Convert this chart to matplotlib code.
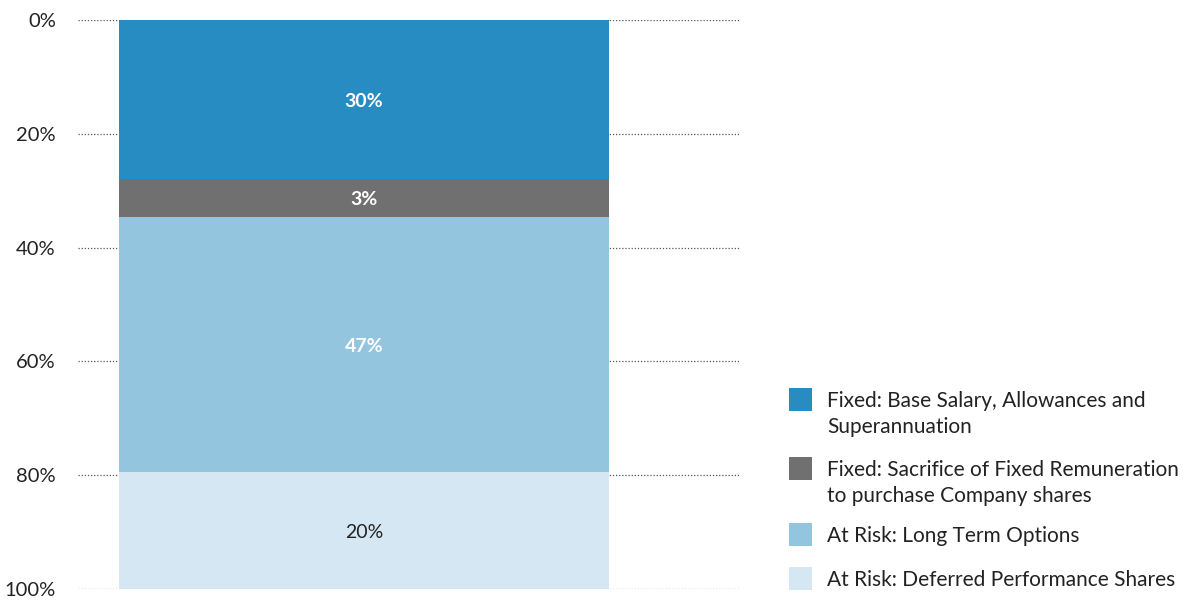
import matplotlib
matplotlib.use("Agg")
import matplotlib.pyplot as plt
from matplotlib.patches import Rectangle

plt.rcParams['font.family'] = ['Lato', 'DejaVu Sans']

# Data
categories = ["Fixed: Base Salary, Allowances and\nSuperannuation",
              "Fixed: Sacrifice of Fixed Remuneration\nto purchase Company shares",
              "At Risk: Long Term Options",
              "At Risk: Deferred Performance Shares"]
values = [28.0, 6.6, 44.9, 20.5]          # drawn segment heights (%)
value_labels = ["30%", "3%", "47%", "20%"]  # printed labels
colors = ["#278CC1", "#707070", "#94C5DF", "#D4E7F2"]
label_colors = ["white", "white", "white", "#222222"]
label_weights = ["bold", "bold", "bold", "normal"]
yticks = [0, 20, 40, 60, 80, 100]
ytick_labels = ["0%", "20%", "40%", "60%", "80%", "100%"]

W, H = 1192, 601
fig = plt.figure(figsize=(W / 100, H / 100), dpi=100)
ax = fig.add_axes([78 / W, 1 - 589 / H, (740 - 78) / W, (589 - 20) / H])

ax.set_xlim(0, 1)
ax.set_ylim(100, 0)
for t in yticks:
    ax.axhline(t, color="#555555", linestyle=(0, (1, 1.5)), linewidth=0.9, zorder=0)

bar_x = (364 - 78) / (740 - 78)
bar_w = (609 - 119) / (740 - 78)
bottom = 0
for v, c, lab, lc, lw in zip(values, colors, value_labels, label_colors, label_weights):
    ax.bar(bar_x, v, bottom=bottom, width=bar_w, color=c, zorder=2)
    ax.text(bar_x, bottom + v / 2, lab, ha="center", va="center_baseline",
            color=lc, fontsize=14, fontweight=lw, zorder=3)
    bottom += v

ax.set_yticks(yticks)
ax.set_yticklabels(ytick_labels, fontsize=14.5, color="#222222")
ax.tick_params(axis="y", length=0, pad=16)
ax.set_xticks([])
for s in ax.spines.values():
    s.set_visible(False)

# Legend drawn manually
sq = 23
item_y = [399, 468, 534, 578]  # centre of square (px from top)
line_gap = 26
for cat, c, yc in zip(categories, colors, item_y):
    fig.patches.append(Rectangle((789 / W, 1 - (yc + sq / 2) / H), sq / W, sq / H,
                                 transform=fig.transFigure, facecolor=c, edgecolor="none"))
    lines = cat.split("\n")
    for i, ln in enumerate(lines):
        fig.text(827 / W, 1 - (yc + 2 + i * line_gap) / H, ln, ha="left", va="center",
                 fontsize=15, color="#222222")

fig.savefig("out.png", dpi=100)
